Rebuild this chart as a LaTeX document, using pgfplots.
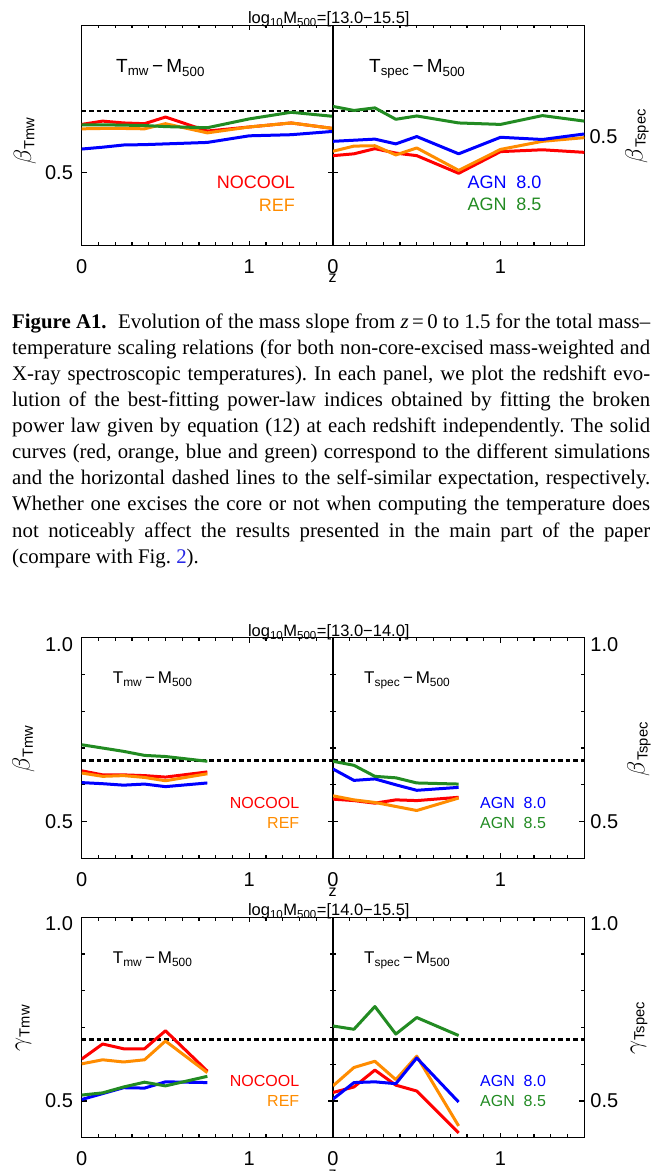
\documentclass[border=0pt]{standalone}
\usepackage{pgfplots}
\pgfplotsset{compat=1.18}
\usepackage{fontspec}
\setmainfont{Liberation Serif}
\setsansfont{Liberation Sans}

\definecolor{cred}{RGB}{255,0,0}
\definecolor{corange}{RGB}{255,140,0}
\definecolor{cblue}{RGB}{0,0,255}
\definecolor{cgreen}{RGB}{34,139,34}
\definecolor{clink}{RGB}{40,40,230}

\newcommand\ticks{\fontsize{20}{20}\selectfont\sffamily}
\newcommand\titlefont{\fontsize{16.5}{16.5}\selectfont\sffamily}
\newcommand\capfont{\fontsize{20.8}{26}\selectfont\rmfamily\frenchspacing}
\newcommand\capline[1]{\hbox to 638pt{#1}}

\pgfplotsset{
  panel/.style={
    scale only axis, width=251.3pt, height=220.5pt, anchor=south west,
    xmin=0, xmax=1.5,
    axis line style={line width=1.3pt},
    every tick/.style={black, line width=1.1pt},
    major tick length=5pt, minor tick length=3.3pt,
    xtick={0,1}, xticklabels={0,1},
    minor xtick={0.1,0.2,0.3,0.4,0.5,0.6,0.7,0.8,0.9,1.1,1.2,1.3,1.4},
    ticklabel style={font=\ticks},
    xticklabel style={anchor=center, yshift=-21pt},
    every axis plot/.append style={line width=3pt, line join=round},
  },
  wide/.style={panel, ymin=0.3, ymax=0.9, ytick={0.5}},
  tall/.style={panel, ymin=0.4, ymax=1.0, ytick={0.5}, yticklabels={0.5},
    minor ytick={0.6,0.7,0.8,0.9},
    extra y ticks={0.9817}, extra y tick labels={1.0},
    extra y tick style={major tick length=0pt}},
  leftlab/.style={yticklabel style={anchor=center, xshift=-22.7pt}},
  rightlab/.style={yticklabel pos=right, yticklabel style={anchor=center, xshift=20pt}},
  ss/.style={black, line width=2.8pt, dash pattern=on 4.5pt off 3pt},
}

\begin{document}
\begin{tikzpicture}
\path[use as bounding box] (0pt,0pt) rectangle (661pt,1171pt);

% ---------------- top figure: 13.0-15.5 ----------------
\begin{axis}[wide, leftlab, yticklabels={0.5}, at={(81.7pt,925.3pt)}]
  \addplot[ss] coordinates {(0,0.6667)(1.5,0.6667)};
  \addplot[cred] coordinates {(0,0.630)(0.125,0.639)(0.25,0.634)(0.375,0.632)(0.5,0.650)(0.75,0.612)(1,0.623)(1.25,0.634)(1.5,0.619)};
  \addplot[corange] coordinates {(0,0.618)(0.125,0.619)(0.25,0.619)(0.375,0.618)(0.5,0.632)(0.75,0.607)(1,0.623)(1.25,0.634)(1.5,0.619)};
  \addplot[cblue] coordinates {(0,0.563)(0.125,0.568)(0.25,0.574)(0.375,0.575)(0.5,0.577)(0.75,0.581)(1,0.599)(1.25,0.602)(1.5,0.611)};
  \addplot[cgreen] coordinates {(0,0.629)(0.125,0.629)(0.25,0.628)(0.375,0.627)(0.5,0.624)(0.75,0.621)(1,0.645)(1.25,0.663)(1.5,0.652)};
\end{axis}
\begin{axis}[wide, ytick pos=left, yticklabels={}, at={(333pt,925.3pt)}]
  \addplot[ss] coordinates {(0,0.6667)(1.5,0.6667)};
  \addplot[cred] coordinates {(0,0.545)(0.125,0.550)(0.25,0.564)(0.375,0.552)(0.5,0.545)(0.75,0.497)(1,0.556)(1.25,0.561)(1.5,0.554)};
  \addplot[corange] coordinates {(0,0.557)(0.125,0.571)(0.25,0.572)(0.375,0.547)(0.5,0.566)(0.75,0.505)(1,0.562)(1.25,0.584)(1.5,0.594)};
  \addplot[cblue] coordinates {(0,0.584)(0.125,0.587)(0.25,0.590)(0.375,0.577)(0.5,0.597)(0.75,0.550)(1,0.595)(1.25,0.589)(1.5,0.604)};
  \addplot[cgreen] coordinates {(0,0.679)(0.125,0.668)(0.25,0.675)(0.375,0.644)(0.5,0.653)(0.75,0.634)(1,0.630)(1.25,0.654)(1.5,0.639)};
\end{axis}

% ---------------- middle figure: 13.0-14.0 ----------------
\begin{axis}[tall, leftlab, at={(81.7pt,312.7pt)}]
  \addplot[ss] coordinates {(0,0.6667)(1.5,0.6667)};
  \addplot[cred] coordinates {(0,0.638)(0.125,0.627)(0.25,0.627)(0.375,0.625)(0.5,0.621)(0.75,0.635)};
  \addplot[corange] coordinates {(0,0.632)(0.125,0.623)(0.25,0.625)(0.375,0.620)(0.5,0.611)(0.75,0.630)};
  \addplot[cblue] coordinates {(0,0.606)(0.125,0.603)(0.25,0.599)(0.375,0.602)(0.5,0.595)(0.75,0.605)};
  \addplot[cgreen] coordinates {(0,0.709)(0.125,0.700)(0.25,0.691)(0.375,0.680)(0.5,0.677)(0.75,0.664)};
\end{axis}
\begin{axis}[tall, rightlab, at={(333pt,312.7pt)}]
  \addplot[ss] coordinates {(0,0.6667)(1.5,0.6667)};
  \addplot[cred] coordinates {(0,0.561)(0.125,0.557)(0.25,0.550)(0.375,0.559)(0.5,0.557)(0.75,0.566)};
  \addplot[corange] coordinates {(0,0.570)(0.125,0.559)(0.25,0.552)(0.375,0.541)(0.5,0.530)(0.75,0.564)};
  \addplot[cblue] coordinates {(0,0.643)(0.125,0.612)(0.25,0.616)(0.375,0.600)(0.5,0.585)(0.75,0.593)};
  \addplot[cgreen] coordinates {(0,0.664)(0.125,0.653)(0.25,0.623)(0.375,0.619)(0.5,0.605)(0.75,0.602)};
\end{axis}

% ---------------- bottom figure: 14.0-15.5 ----------------
\begin{axis}[tall, leftlab, at={(81.7pt,33.3pt)}]
  \addplot[ss] coordinates {(0,0.6667)(1.5,0.6667)};
  \addplot[cred] coordinates {(0,0.614)(0.125,0.655)(0.25,0.642)(0.375,0.642)(0.5,0.691)(0.75,0.581)};
  \addplot[corange] coordinates {(0,0.601)(0.125,0.612)(0.25,0.606)(0.375,0.612)(0.5,0.663)(0.75,0.577)};
  \addplot[cblue] coordinates {(0,0.504)(0.125,0.520)(0.25,0.536)(0.375,0.535)(0.5,0.552)(0.75,0.550)};
  \addplot[cgreen] coordinates {(0,0.516)(0.125,0.522)(0.25,0.538)(0.375,0.551)(0.5,0.541)(0.75,0.567)};
\end{axis}
\begin{axis}[tall, rightlab, at={(333pt,33.3pt)}]
  \addplot[ss] coordinates {(0,0.6667)(1.5,0.6667)};
  \addplot[cred] coordinates {(0,0.523)(0.125,0.538)(0.25,0.584)(0.375,0.543)(0.5,0.527)(0.75,0.413)};
  \addplot[corange] coordinates {(0,0.541)(0.125,0.591)(0.25,0.608)(0.375,0.558)(0.5,0.622)(0.75,0.432)};
  \addplot[cblue] coordinates {(0,0.505)(0.125,0.550)(0.25,0.552)(0.375,0.547)(0.5,0.617)(0.75,0.497)};
  \addplot[cgreen] coordinates {(0,0.704)(0.125,0.695)(0.25,0.757)(0.375,0.682)(0.5,0.727)(0.75,0.678)};
\end{axis}

% ---------------- texts of the panels ----------------
\begin{scope}[every node/.style={inner sep=0pt}]
  % titles
  \foreach \yy/\rng in {1147.5/13.0−15.5, 534.5/13.0−14.0, 255/14.0−15.5}
    \node[anchor=base, font=\titlefont] at (328.8pt,\yy pt)
      {log\textsubscript{10}M\textsubscript{500}=[\rng]};
  % z under the shared tick
  \foreach \yy in {893, 279, -3}
    \node[font=\fontsize{16}{16}\selectfont\sffamily] at (332.6pt,\yy pt) {z};

  % top figure
  \node[anchor=base west, font=\fontsize{19}{19}\selectfont\sffamily] at (116pt,1098pt)
    {T\textsubscript{mw}\,−\,M\textsubscript{500}};
  \node[anchor=base west, font=\fontsize{19}{19}\selectfont\sffamily] at (369pt,1098pt)
    {T\textsubscript{spec}\,−\,M\textsubscript{500}};
  \node[anchor=base east, font=\fontsize{18}{18}\selectfont\sffamily, text=cred] at (295pt,982pt) {NOCOOL};
  \node[anchor=base east, font=\fontsize{18}{18}\selectfont\sffamily, text=corange] at (295pt,959.5pt) {REF};
  \node[anchor=base west, font=\fontsize{18}{18}\selectfont\sffamily, text=cblue] at (467.3pt,982.5pt) {AGN\hspace{0.55em}8.0};
  \node[anchor=base west, font=\fontsize{18}{18}\selectfont\sffamily, text=cgreen] at (467.3pt,960pt) {AGN\hspace{0.55em}8.5};
  \node[rotate=90, font=\fontsize{21}{21}\selectfont\sffamily] at (25pt,1030pt) {\scalebox{1.2}{$\beta$}\textsubscript{Tmw}};
  \node[rotate=90, font=\fontsize{21}{21}\selectfont\sffamily] at (637pt,1035pt) {\scalebox{1.2}{$\beta$}\textsubscript{Tspec}};
  \node[font=\ticks] at (603.5pt,1034pt) {0.5};

  % middle and bottom figures
  \foreach \yb/\yl/\yn/\g in {487/422/362.7/\beta, 207.5/143/84.3/\gamma} {
    \node[anchor=base west, font=\fontsize{17}{17}\selectfont\sffamily] at (112.7pt,\yb pt)
      {T\textsubscript{mw}\,−\,M\textsubscript{500}};
    \node[anchor=base west, font=\fontsize{17}{17}\selectfont\sffamily] at (364pt,\yb pt)
      {T\textsubscript{spec}\,−\,M\textsubscript{500}};
    \node[anchor=base east, font=\fontsize{16}{16}\selectfont\sffamily, text=cred] at (299.4pt,\yn pt) {NOCOOL};
    \node[anchor=base east, font=\fontsize{16}{16}\selectfont\sffamily, text=corange] at (299.4pt,\yn pt-20pt) {REF};
    \node[anchor=base west, font=\fontsize{16}{16}\selectfont\sffamily, text=cblue] at (480pt,\yn pt) {AGN\hspace{0.55em}8.0};
    \node[anchor=base west, font=\fontsize{16}{16}\selectfont\sffamily, text=cgreen] at (480pt,\yn pt-20pt) {AGN\hspace{0.55em}8.5};
    \node[rotate=90, font=\fontsize{21}{21}\selectfont\sffamily] at (23.5pt,\yl pt) {\scalebox{1.2}{$\g$}\textsubscript{Tmw}};
    \node[rotate=90, font=\fontsize{21}{21}\selectfont\sffamily] at (639pt,\yl pt) {\scalebox{1.2}{$\g$}\textsubscript{Tspec}};
  }

  % caption
  \begin{scope}[every node/.append style={anchor=base west, font=\capfont}]
    \node at (12pt,842.7pt) {\capline{\textbf{Figure A1.}\hspace{0.3em} Evolution of the mass slope from \textit{z}\,=\,0 to 1.5 for the total mass–}};
    \node at (12pt,816.6pt) {\capline{temperature scaling relations (for both non-core-excised mass-weighted and}};
    \node at (12pt,790.5pt) {\capline{X-ray spectroscopic temperatures). In each panel, we plot the redshift evo-}};
    \node at (12pt,764.4pt) {\capline{lution of the best-fitting power-law indices obtained by fitting the broken}};
    \node at (12pt,738.3pt) {\capline{power law given by equation (12) at each redshift independently. The solid}};
    \node at (12pt,712.2pt) {\capline{curves (red, orange, blue and green) correspond to the different simulations}};
    \node at (12pt,686.1pt) {\capline{and the horizontal dashed lines to the self-similar expectation, respectively.}};
    \node at (12pt,660.0pt) {\capline{Whether one excises the core or not when computing the temperature does}};
    \node at (12pt,633.9pt) {\capline{not noticeably affect the results presented in the main part of the paper}};
    \node at (12pt,607.8pt) {(compare with Fig. {\color{clink}2}).};
  \end{scope}
\end{scope}
\end{tikzpicture}
\end{document}
